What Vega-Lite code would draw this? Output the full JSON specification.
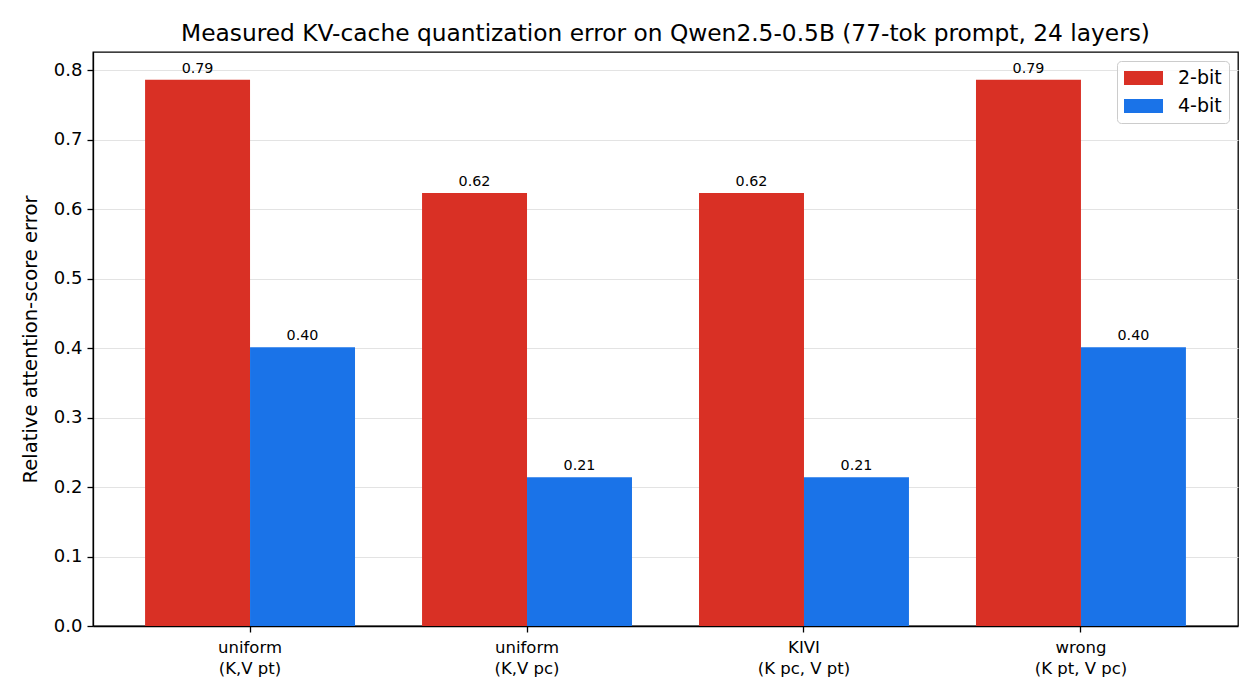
{
  "$schema": "https://vega.github.io/schema/vega-lite/v6.json",
  "autosize": {"type": "none"},
  "padding": {"left": 93, "top": 52, "right": 22, "bottom": 74},
  "width": 1145,
  "height": 574,
  "background": "white",
  "title": {
    "text": "Measured KV-cache quantization error on Qwen2.5-0.5B (77-tok prompt, 24 layers)",
    "font": "DejaVu Sans",
    "fontSize": 23.3,
    "fontWeight": "normal",
    "color": "#000000",
    "anchor": "middle",
    "offset": 6
  },
  "data": {
    "values": [
      {"method": "uniform|(K,V pt)", "bits": "2-bit", "err": 0.786},
      {"method": "uniform|(K,V pt)", "bits": "4-bit", "err": 0.401},
      {"method": "uniform|(K,V pc)", "bits": "2-bit", "err": 0.623},
      {"method": "uniform|(K,V pc)", "bits": "4-bit", "err": 0.214},
      {"method": "KIVI|(K pc, V pt)", "bits": "2-bit", "err": 0.623},
      {"method": "KIVI|(K pc, V pt)", "bits": "4-bit", "err": 0.214},
      {"method": "wrong|(K pt, V pc)", "bits": "2-bit", "err": 0.786},
      {"method": "wrong|(K pt, V pc)", "bits": "4-bit", "err": 0.401}
    ]
  },
  "encoding": {
    "x": {
      "field": "method",
      "type": "nominal",
      "sort": null,
      "scale": {"paddingInner": 0.242, "paddingOuter": 0.188},
      "axis": {
        "title": null,
        "labelAngle": 0,
        "labelExpr": "split(datum.label, '|')",
        "labelFont": "DejaVu Sans",
        "labelFontSize": 16.5,
        "labelColor": "#000000",
        "labelLineHeight": 21,
        "labelPadding": 7,
        "tickSize": 6,
        "tickColor": "#000000",
        "tickWidth": 1.3,
        "domainColor": "#000000",
        "domainWidth": 1.3,
        "grid": false
      }
    },
    "xOffset": {
      "field": "bits",
      "type": "nominal",
      "scale": {"paddingInner": 0, "paddingOuter": 0}
    },
    "y": {
      "field": "err",
      "type": "quantitative",
      "scale": {"domain": [0, 0.826], "nice": false, "zero": true},
      "axis": {
        "title": "Relative attention-score error",
        "titleFont": "DejaVu Sans",
        "titleFontSize": 19.6,
        "titleFontWeight": "normal",
        "titleColor": "#000000",
        "titlePadding": 13,
        "values": [0, 0.1, 0.2, 0.3, 0.4, 0.5, 0.6, 0.7, 0.8],
        "format": ".1f",
        "labelFont": "DejaVu Sans",
        "labelFontSize": 18,
        "labelColor": "#000000",
        "labelPadding": 5,
        "tickSize": 6,
        "tickColor": "#000000",
        "tickWidth": 1.3,
        "domainColor": "#000000",
        "domainWidth": 1.3,
        "grid": true,
        "gridColor": "#e3e3e3",
        "gridWidth": 1.2
      }
    }
  },
  "layer": [
    {
      "mark": {"type": "bar"},
      "encoding": {
        "color": {
          "field": "bits",
          "type": "nominal",
          "scale": {"domain": ["2-bit", "4-bit"], "range": ["#d93025", "#1a73e8"]},
          "legend": {
            "title": null,
            "orient": "top-right",
            "offset": 9,
            "labelFont": "DejaVu Sans",
            "labelFontSize": 19,
            "labelColor": "#000000",
            "labelOffset": 34,
            "symbolType": "M-1,-0.7H2.9V0.7H-1Z",
            "symbolSize": 400,
            "symbolStrokeWidth": 0,
            "rowPadding": 8,
            "padding": 7,
            "fillColor": "rgba(255,255,255,0.8)",
            "strokeColor": "#cccccc",
            "cornerRadius": 4
          }
        }
      }
    },
    {
      "mark": {"type": "text", "baseline": "alphabetic", "dy": -7, "font": "DejaVu Sans", "fontSize": 14.3, "color": "#000000"},
      "encoding": {
        "text": {"field": "err", "type": "quantitative", "format": ".2f"}
      }
    }
  ],
  "config": {
    "view": {"stroke": "#000000", "strokeWidth": 1.3},
    "legend": {"symbolOpacity": 1}
  }
}
